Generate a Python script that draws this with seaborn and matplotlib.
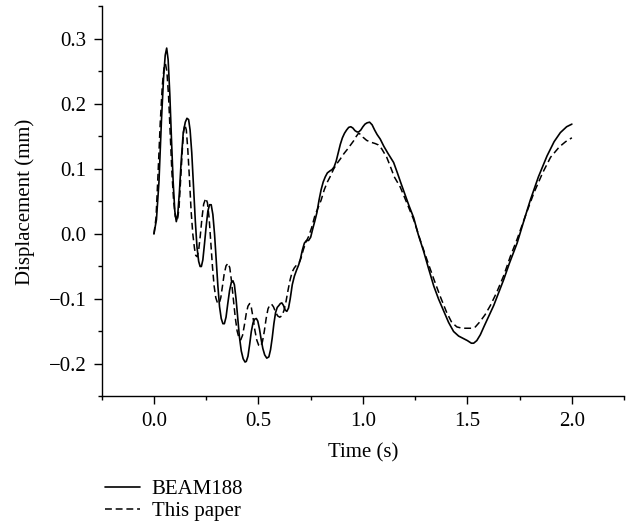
import pandas as pd
import matplotlib.pyplot as plt
import seaborn as sns
from matplotlib.ticker import MultipleLocator, FuncFormatter

# BEAM188 (solid)
t_beam = [0.000, 0.012, 0.024, 0.036, 0.046, 0.054, 0.061, 0.068, 0.076, 0.084,
          0.092, 0.100, 0.107, 0.114, 0.122, 0.130, 0.140, 0.150, 0.158, 0.166,
          0.173, 0.181, 0.190, 0.198, 0.206, 0.214, 0.221, 0.227, 0.234, 0.242,
          0.250, 0.258, 0.266, 0.274, 0.282, 0.290, 0.298, 0.306, 0.314, 0.322,
          0.330, 0.337, 0.345, 0.353, 0.362, 0.370, 0.378, 0.385, 0.393, 0.401,
          0.409, 0.418, 0.427, 0.436, 0.442, 0.450, 0.458, 0.466, 0.474, 0.482,
          0.490, 0.497, 0.505, 0.513, 0.521, 0.530, 0.540, 0.550, 0.558, 0.566,
          0.574, 0.582, 0.590, 0.598, 0.605, 0.612, 0.620, 0.628, 0.636, 0.644,
          0.652, 0.662, 0.672, 0.682, 0.692, 0.700, 0.710, 0.720, 0.730, 0.740,
          0.750, 0.760, 0.770, 0.780, 0.790, 0.800, 0.810, 0.820, 0.830, 0.842,
          0.852, 0.862, 0.872, 0.882, 0.892, 0.902, 0.912, 0.922, 0.932, 0.942,
          0.952, 0.962, 0.972, 0.980, 0.990, 1.000, 1.010, 1.020, 1.032, 1.044,
          1.056, 1.068, 1.083, 1.100, 1.120, 1.147, 1.165, 1.180, 1.200, 1.220,
          1.243, 1.265, 1.290, 1.315, 1.339, 1.362, 1.386, 1.410, 1.434, 1.458,
          1.482, 1.500, 1.519, 1.530, 1.545, 1.562, 1.580, 1.600, 1.626, 1.650,
          1.674, 1.700, 1.738, 1.770, 1.801, 1.840, 1.881, 1.915, 1.945, 1.975,
          2.000]
d_beam = [0.000, 0.022, 0.080, 0.175, 0.240, 0.275, 0.286, 0.268, 0.215, 0.145,
          0.080, 0.035, 0.019, 0.030, 0.065, 0.110, 0.155, 0.172, 0.178, 0.176,
          0.160, 0.125, 0.070, 0.020, -0.020, -0.042, -0.050, -0.050, -0.040, -0.015,
          0.012, 0.035, 0.045, 0.045, 0.030, 0.000, -0.040, -0.080, -0.112, -0.130,
          -0.138, -0.138, -0.128, -0.108, -0.087, -0.075, -0.072, -0.078, -0.100, -0.130,
          -0.158, -0.180, -0.192, -0.197, -0.196, -0.188, -0.170, -0.150, -0.137, -0.131,
          -0.130, -0.134, -0.146, -0.162, -0.176, -0.186, -0.191, -0.189, -0.178, -0.160,
          -0.138, -0.121, -0.113, -0.110, -0.107, -0.106, -0.110, -0.117, -0.119, -0.114,
          -0.100, -0.078, -0.065, -0.056, -0.048, -0.040, -0.025, -0.014, -0.010, -0.010,
          -0.005, 0.008, 0.020, 0.033, 0.052, 0.068, 0.080, 0.088, 0.094, 0.097,
          0.099, 0.103, 0.112, 0.125, 0.138, 0.148, 0.155, 0.160, 0.164, 0.165,
          0.163, 0.159, 0.157, 0.157, 0.160, 0.165, 0.169, 0.171, 0.172, 0.168,
          0.160, 0.153, 0.146, 0.135, 0.124, 0.110, 0.094, 0.080, 0.062, 0.044,
          0.025, -0.001, -0.026, -0.054, -0.080, -0.100, -0.118, -0.136, -0.150, -0.157,
          -0.161, -0.164, -0.168, -0.168, -0.164, -0.155, -0.142, -0.128, -0.110, -0.090,
          -0.070, -0.046, -0.014, 0.020, 0.052, 0.088, 0.120, 0.142, 0.156, 0.165,
          0.169]

# This paper (dashed)
t_paper = [0.000, 0.010, 0.020, 0.030, 0.040, 0.048, 0.055, 0.062, 0.070, 0.078,
           0.086, 0.094, 0.102, 0.112, 0.120, 0.128, 0.136, 0.142, 0.148, 0.155,
           0.162, 0.170, 0.178, 0.186, 0.194, 0.200, 0.207, 0.214, 0.222, 0.230,
           0.238, 0.248, 0.256, 0.264, 0.272, 0.280, 0.288, 0.296, 0.304, 0.312,
           0.320, 0.328, 0.336, 0.345, 0.355, 0.363, 0.371, 0.380, 0.389, 0.398,
           0.407, 0.415, 0.424, 0.433, 0.442, 0.450, 0.458, 0.466, 0.474, 0.483,
           0.492, 0.501, 0.510, 0.519, 0.528, 0.537, 0.546, 0.555, 0.563, 0.572,
           0.582, 0.592, 0.602, 0.612, 0.622, 0.632, 0.642, 0.652, 0.662, 0.672,
           0.682, 0.695, 0.705, 0.715, 0.728, 0.740, 0.755, 0.770, 0.785, 0.800,
           0.815, 0.830, 0.843, 0.860, 0.875, 0.891, 0.910, 0.925, 0.939, 0.955,
           0.968, 0.979, 0.990, 1.000, 1.018, 1.040, 1.060, 1.074, 1.090, 1.105,
           1.114, 1.130, 1.150, 1.179, 1.210, 1.243, 1.275, 1.307, 1.340, 1.370,
           1.400, 1.425, 1.450, 1.475, 1.498, 1.520, 1.538, 1.560, 1.585, 1.610,
           1.640, 1.674, 1.705, 1.738, 1.780, 1.818, 1.860, 1.898, 1.940, 1.970,
           2.000]
d_paper = [0.000, 0.025, 0.095, 0.170, 0.228, 0.255, 0.262, 0.250, 0.212, 0.155,
           0.095, 0.052, 0.027, 0.020, 0.040, 0.085, 0.130, 0.158, 0.168, 0.160,
           0.130, 0.085, 0.035, 0.000, -0.022, -0.033, -0.035, -0.025, -0.002, 0.025,
           0.046, 0.055, 0.048, 0.025, -0.012, -0.050, -0.080, -0.098, -0.106, -0.107,
           -0.098, -0.080, -0.062, -0.049, -0.045, -0.052, -0.072, -0.100, -0.128, -0.149,
           -0.160, -0.163, -0.156, -0.140, -0.122, -0.111, -0.107, -0.113, -0.128, -0.148,
           -0.163, -0.171, -0.173, -0.166, -0.150, -0.130, -0.115, -0.109, -0.108, -0.112,
           -0.120, -0.126, -0.128, -0.126, -0.118, -0.104, -0.086, -0.070, -0.058, -0.052,
           -0.048, -0.044, -0.036, -0.024, -0.012, -0.004, 0.010, 0.028, 0.040, 0.052,
           0.068, 0.080, 0.088, 0.100, 0.108, 0.115, 0.124, 0.130, 0.136, 0.143,
           0.150, 0.155, 0.153, 0.149, 0.144, 0.141, 0.139, 0.137, 0.131, 0.123,
           0.118, 0.105, 0.088, 0.072, 0.048, 0.022, -0.010, -0.040, -0.070, -0.096,
           -0.120, -0.136, -0.143, -0.145, -0.145, -0.145, -0.143, -0.135, -0.124, -0.110,
           -0.090, -0.064, -0.035, -0.008, 0.030, 0.063, 0.094, 0.118, 0.134, 0.142,
           0.148]

beam = pd.DataFrame({'t': t_beam, 'd': d_beam})
paper = pd.DataFrame({'t': t_paper, 'd': d_paper})

sns.set_style("ticks")
plt.rcParams['font.family'] = ['Liberation Serif', 'DejaVu Serif']
plt.rcParams['font.size'] = 15
plt.rcParams['text.color'] = 'black'
plt.rcParams['axes.labelcolor'] = 'black'

fig = plt.figure(figsize=(6.34, 5.31), dpi=100)
ax = fig.add_axes([0.1604, 0.2533, 0.824, 0.7345])

sns.lineplot(data=beam, x='t', y='d', ax=ax, color='black', lw=1.2,
             label='BEAM188', legend=False)
sns.lineplot(data=paper, x='t', y='d', ax=ax, color='black', lw=1.1,
             label='This paper', legend=False)
ax.lines[1].set_dashes([4.5, 2.5])

ax.set_xlim(-0.25, 2.25)
ax.set_ylim(-0.25, 0.35)
fmt = FuncFormatter(lambda v, p: f'{v:.1f}'.replace('-', '\u2212'))
ax.xaxis.set_major_locator(MultipleLocator(0.5))
ax.xaxis.set_minor_locator(MultipleLocator(0.25))
ax.yaxis.set_major_locator(MultipleLocator(0.1))
ax.yaxis.set_minor_locator(MultipleLocator(0.05))
ax.xaxis.set_major_formatter(fmt)
ax.yaxis.set_major_formatter(fmt)
ax.tick_params(which='major', direction='out', length=6, width=1, colors='black',
               labelsize=15, pad=5)
ax.tick_params(which='minor', direction='out', length=3, width=1, colors='black')

sns.despine(ax=ax)
for s in ['left', 'bottom']:
    ax.spines[s].set_color('black')
    ax.spines[s].set_linewidth(1)

ax.set_xlabel('Time (s)', fontsize=15, labelpad=9)
ax.set_ylabel('Displacement (mm)', fontsize=15, labelpad=10)

handles, labels = ax.get_legend_handles_labels()
fig.legend(handles, labels, loc='center left', bbox_to_anchor=(0.152, 0.058),
           frameon=False, fontsize=15, handlelength=1.7, handletextpad=0.55,
           labelspacing=0.1, borderaxespad=0)

plt.savefig('out.png', dpi=100)
